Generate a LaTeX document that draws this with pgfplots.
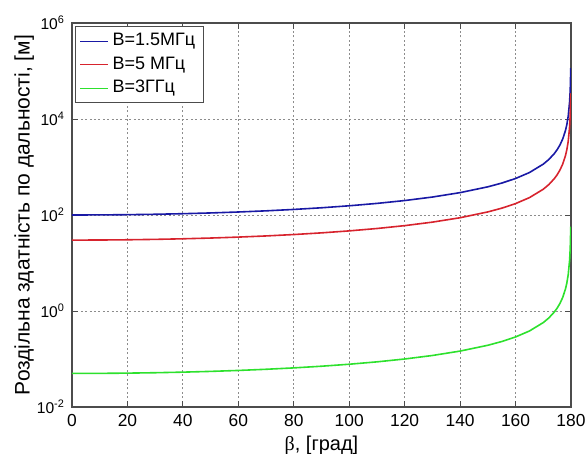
\documentclass[border=0pt]{standalone}
\usepackage{fontspec}
\setmainfont{Liberation Sans}
\newfontfamily\serif{Liberation Serif}
\usepackage{pgfplots}
\pgfplotsset{compat=1.18}
\definecolor{cblue}{RGB}{25,25,165}
\definecolor{cred}{RGB}{215,35,45}
\definecolor{cgreen}{RGB}{45,225,45}
\begin{document}
\begin{tikzpicture}
\begin{axis}[
  name=ax,
  scale only axis,
  width=249.5pt, height=192pt,
  ymode=log,
  xmin=0, xmax=180, ymin=1e-2, ymax=1e6,
  xtick={0,20,...,180},
  ytick={1e-2,1,1e2,1e4,1e6},
  yticklabels={10\textsuperscript{-2},10\textsuperscript{0},10\textsuperscript{2},10\textsuperscript{4},10\textsuperscript{6}},
  minor ytick={},
  /pgf/number format/assume math mode=true,
  xticklabel style={font=\fontsize{8.7}{10}\selectfont},
  yticklabel style={font=\fontsize{7.8}{9}\selectfont},
  tick align=inside,
  major tick length=3pt,
  tick style={color=black!70, line width=0.4pt},
  axis line style={black!70, line width=0.6pt},
  grid=major,
  major grid style={black!45, dash pattern=on 1pt off 1.2pt, line width=0.4pt},
  xlabel={{\serif β}, [град]},
  ylabel={Роздільна здатність по дальності, [м]},
  xlabel style={font=\fontsize{10}{12}\selectfont, at={(axis description cs:0.5,-0.099)}, anchor=center},
  ylabel style={font=\fontsize{10.5}{12}\selectfont, at={(axis description cs:-0.096,0.5)}, anchor=center},
  legend style={at={(0.006,0.992)}, anchor=north west, draw=black!70, line width=0.5pt,
    font=\fontsize{9}{10}\selectfont, inner xsep=2pt, inner ysep=1.5pt},
  legend cell align=left,
  legend image code/.code={\draw[#1, line width=0.6pt] (0pt,0pt) -- (14pt,0pt);},
]
\addplot[cblue, line width=0.8pt] coordinates {
(0,100)(10,100.38)(20,101.54)(30,103.53)(40,106.42)(50,110.34)(60,115.47)(70,122.08)(80,130.54)(90,141.42)(100,155.57)(110,174.35)(120,200)(130,236.62)(140,292.38)(150,386.37)(155,462.02)(160,575.88)(165,766.13)(170,1147.4)(172,1433.6)(174,1910.7)(175,2292.6)(176,2865.4)(177,3820.2)(178,5729.9)(178.5,7639.5)(179,11459)(179.5,22918)(179.7,38197)(179.8,57296)(179.9,114592)};
\addlegendentry{B=1.5МГц}
\addplot[cred, line width=0.8pt] coordinates {
(0,30)(10,30.11)(20,30.46)(30,31.06)(40,31.93)(50,33.10)(60,34.64)(70,36.62)(80,39.16)(90,42.43)(100,46.67)(110,52.30)(120,60)(130,70.99)(140,87.71)(150,115.91)(155,138.61)(160,172.76)(165,229.84)(170,344.21)(172,430.07)(174,573.22)(175,687.77)(176,859.61)(177,1146.0)(178,1719.0)(178.5,2291.8)(179,3437.8)(179.5,6875.5)(179.7,11459)(179.8,17189)(179.9,34378)};
\addlegendentry{B=5 МГц}
\addplot[cgreen, line width=0.8pt] coordinates {
(0,0.05)(10,0.05019)(20,0.05077)(30,0.05176)(40,0.05321)(50,0.05517)(60,0.05774)(70,0.06104)(80,0.06527)(90,0.07071)(100,0.07779)(110,0.08717)(120,0.1)(130,0.11831)(140,0.14619)(150,0.19319)(155,0.23101)(160,0.28794)(165,0.38307)(170,0.57369)(172,0.71678)(174,0.95537)(175,1.1463)(176,1.4327)(177,1.9101)(178,2.8649)(178.5,3.8197)(179,5.7296)(179.5,11.459)(179.7,19.099)(179.8,28.648)(179.9,57.296)};
\addlegendentry{B=3ГГц}
\end{axis}
\pgfresetboundingbox
\path[use as bounding box] ([xshift=-36pt,yshift=-23.5pt]ax.south west) rectangle ([xshift=7pt,yshift=11.5pt]ax.north east);
\end{tikzpicture}
\end{document}
